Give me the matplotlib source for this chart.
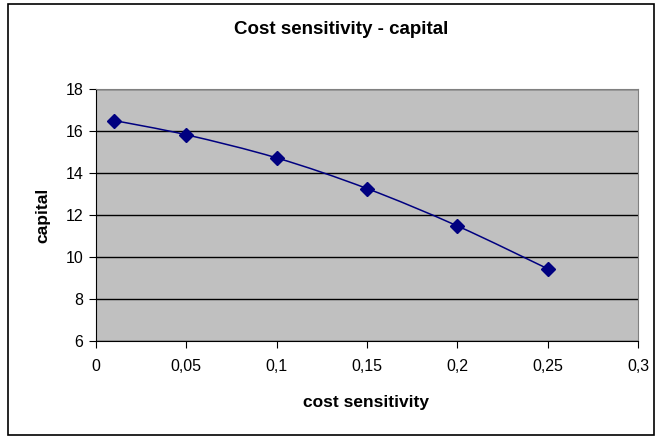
import numpy as np
import matplotlib
matplotlib.use("Agg")
import matplotlib.pyplot as plt
from matplotlib.path import Path
from matplotlib.patches import PathPatch, Rectangle

# data
cost_sensitivity = [0.01, 0.05, 0.10, 0.15, 0.20, 0.25]
capital = [16.5, 15.82, 14.72, 13.26, 11.48, 9.44]
x_ticks = [0, 0.05, 0.1, 0.15, 0.2, 0.25, 0.3]
x_tick_labels = ["0", "0,05", "0,1", "0,15", "0,2", "0,25", "0,3"]
y_ticks = [6, 8, 10, 12, 14, 16, 18]

plt.rcParams["font.family"] = ["Liberation Sans", "DejaVu Sans"]
navy = "#000080"

fig = plt.figure(figsize=(6.6, 4.37), dpi=100)
fig.patch.set_facecolor("white")
# outer chart border
fig.add_artist(Rectangle((8 / 660, 2 / 437), 646 / 660, 431 / 437, transform=fig.transFigure,
                         fill=False, edgecolor="black", linewidth=1.2))

ax = fig.add_axes([96 / 660, 1 - 341 / 437, 542 / 660, 252 / 437])
ax.set_facecolor("#C0C0C0")
ax.set_xlim(0, 0.3)
ax.set_ylim(6, 18)
ax.set_xticks(x_ticks)
ax.set_xticklabels(x_tick_labels)
ax.set_yticks(y_ticks)
ax.tick_params(axis="both", labelsize=11.5, length=5, width=0.8, direction="out", pad=8)
ax.tick_params(axis="y", pad=4)
ax.yaxis.grid(True, color="black", linewidth=1)
ax.set_axisbelow(True)
for s in ["top", "right"]:
    ax.spines[s].set_color("#808080")
for s in ["left", "bottom"]:
    ax.spines[s].set_color("black")

# smoothed line (Excel style), cubic bezier through the points
x = np.array(cost_sensitivity)
y = np.array(capital)
verts = [(x[0], y[0])]
codes = [Path.MOVETO]
n = len(x)
for i in range(n - 1):
    p0 = np.array([x[max(i - 1, 0)], y[max(i - 1, 0)]])
    p1 = np.array([x[i], y[i]])
    p2 = np.array([x[i + 1], y[i + 1]])
    p3 = np.array([x[min(i + 2, n - 1)], y[min(i + 2, n - 1)]])
    c1 = p1 + (p2 - p0) / 6
    c2 = p2 - (p3 - p1) / 6
    verts += [tuple(c1), tuple(c2), tuple(p2)]
    codes += [Path.CURVE4] * 3
ax.add_patch(PathPatch(Path(verts, codes), fill=False, edgecolor=navy, linewidth=1.1, zorder=3))
ax.plot(x, y, linestyle="none", marker="D", markersize=7, color=navy, zorder=4)

fig.text(341 / 660, 1 - 29 / 437, "Cost sensitivity - capital", ha="center", va="center",
         fontsize=13.5, fontweight="bold")
fig.text(366 / 660, 1 - 402 / 437, "cost sensitivity", ha="center", va="center",
         fontsize=12.5, fontweight="bold")
fig.text(43 / 660, 1 - 215 / 437, "capital", ha="center", va="center", rotation=90,
         fontsize=12.5, fontweight="bold")

fig.savefig("out.png", dpi=100)
